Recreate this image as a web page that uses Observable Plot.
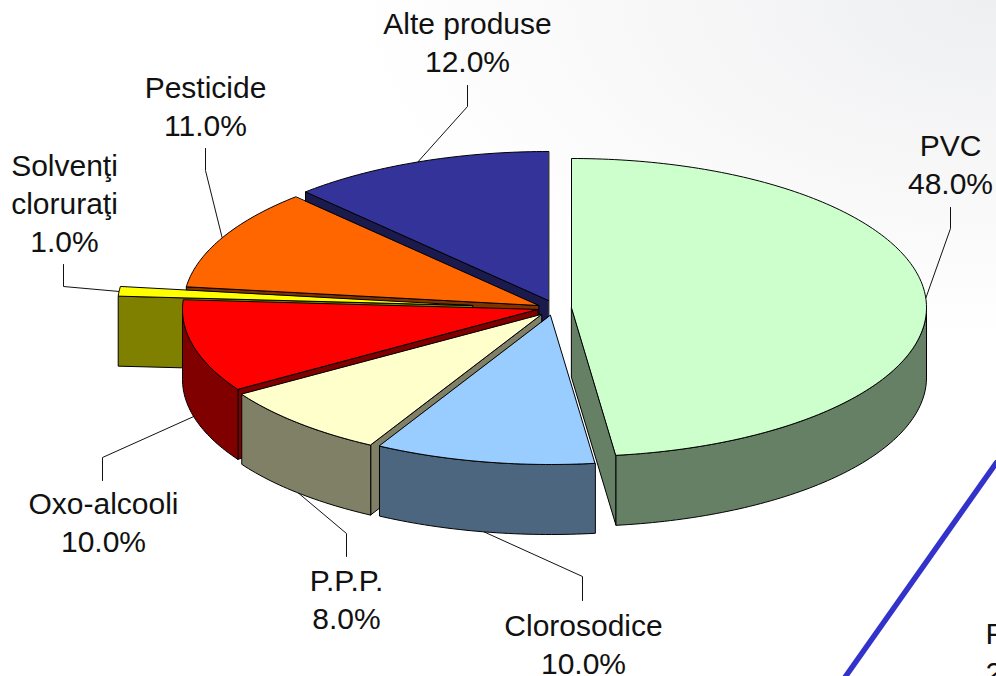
<!DOCTYPE html>
<html>
<head>
<meta charset="utf-8">
<script src="https://cdn.jsdelivr.net/npm/d3@7"></script>
<script src="https://cdn.jsdelivr.net/npm/@observablehq/plot@0.6"></script>
<style>
html,body{margin:0;padding:0;width:996px;height:676px;overflow:hidden;
background:radial-gradient(ellipse 640px 340px at 100% 0,#eeeff1 0%,#f7f7f8 50%,#ffffff 100%) #fff;}
svg{display:block;background:transparent;}
</style>
</head>
<body>
<script>
// --- data ---
const categories = ["PVC","Clorosodice","P.P.P.","Oxo-alcooli","Solvenţi\ncloruraţi","Pesticide","Alte produse"];
const shares = [48,10,8,10,1,11,12];
const topColors = ["#CCFFCC","#99CCFF","#FFFFCC","#FF0000","#FFFF00","#FF6600","#333399"];
const sideColors = ["#668066","#4D6680","#808066","#800000","#808000","#803300","#1A1A4D"];

// --- layout of the exploded 3-D pie ---
const apexX = [571,550,541,537,472,538,548];
const apexY = [307,315,314,309,305,305,300];
const elbowX = [950,582,346,102,63,205,467];
const elbowY = [228,576,533,457,286,170,106];
const stubY = [207,600,556,480,264,148,85];
const labelX = [950,583,346,103,64,205,467];
const labelY = [146,626,581,504,166,88,24];
const rx = 355, ry = 149, depth = 70;
const deg = Math.PI/180;

const rim = (i,t,d=0) => ({x: apexX[i]+rx*Math.sin(t*deg), y: apexY[i]-ry*Math.cos(t*deg)+d});
const arc = (i,a,b,d=0) => {
  const n = Math.max(2,Math.ceil(Math.abs(b-a)));
  return d3.range(n+1).map(k => rim(i,a+(b-a)*k/n,d));
};

// cumulative start angles, clockwise from 12 o'clock
const starts = d3.cumsum([0,...shares]).map(v => v*3.6);
const faces = [];
let id = 0;
const push = (pts,color) => { id++; pts.forEach(p => faces.push({...p,id,color})); };
const anchors = categories.map((c,i) => {
  const m = (starts[i]+starts[i+1])/2;
  return rim(i,m,Math.cos(m*deg) < 0 ? depth : 0);
});
// painter's order: the back slices first
d3.range(categories.length-1,-1,-1).forEach(i => {
  const t1 = starts[i], t2 = starts[i+1];
  const A = {x:apexX[i],y:apexY[i]}, A2 = {x:apexX[i],y:apexY[i]+depth};
  if (Math.sin(t1*deg) < -1e-9) push([A,rim(i,t1),rim(i,t1,depth),A2],sideColors[i]);
  if (Math.sin(t2*deg) > 1e-9) push([A,rim(i,t2),rim(i,t2,depth),A2],sideColors[i]);
  const a = Math.max(t1,90), b = Math.min(t2,270);
  if (b > a) push([...arc(i,a,b),...arc(i,b,a,depth)],sideColors[i]);
  push([A,...arc(i,t1,t2)],topColors[i]);
});

const leaders = categories.flatMap((c,i) => [
  {...anchors[i],i},
  {x:elbowX[i],y:elbowY[i],i},
  {x:elbowX[i],y:stubY[i],i}
]);
const labels = categories.map((c,i) => ({x:labelX[i],y:labelY[i],text:c+"\n"+shares[i].toFixed(1)+"%"}));

const strayLine = [{x:996,y:462},{x:845,y:676}];
const strayText = [{x:985,y:634,t:"P"},{x:985,y:673,t:"2"}];

const font = "Liberation Sans, Arial, sans-serif";
const chart = Plot.plot({
  width:996,height:676,margin:0,
  x:{domain:[0,996],range:[0,996],axis:null},
  y:{domain:[0,676],range:[0,676],axis:null},
  color:{type:"identity"},
  marks:[
    Plot.line(strayLine,{x:"x",y:"y",stroke:"#3333CC",strokeWidth:5.5}),
    Plot.line(leaders,{x:"x",y:"y",z:"i",stroke:"#111",strokeWidth:1}),
    Plot.line(faces,{x:"x",y:"y",z:"id",fill:"color",stroke:"#000",strokeWidth:1,curve:"linear-closed",strokeLinejoin:"round"}),
    Plot.text(labels,{x:"x",y:"y",text:"text",fontSize:30,fontFamily:font,fill:"#111",lineHeight:1.26,lineAnchor:"top",dy:-17,textAnchor:"middle"}),
    Plot.text(strayText,{x:"x",y:"y",text:"t",fontSize:30,fontFamily:font,fill:"#111",textAnchor:"start"})
  ]
});
document.body.appendChild(chart);
</script>
</body>
</html>
